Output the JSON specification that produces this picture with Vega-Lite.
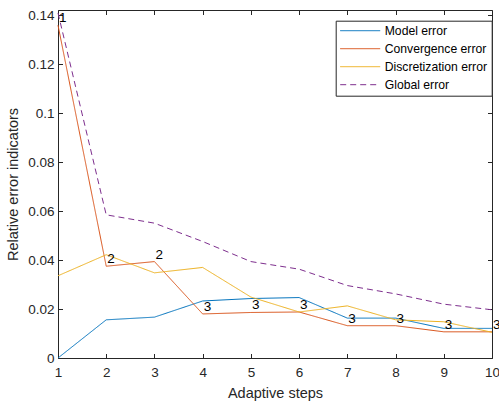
{
  "$schema": "https://vega.github.io/schema/vega-lite/v6.json",
  "autosize": {"type": "none"},
  "width": 434,
  "height": 348,
  "padding": {"left": 58, "top": 10, "right": 7, "bottom": 47},
  "background": "white",
  "datasets": {
    "errors": [
      {"step": 1, "series": "Model error", "value": 0.0},
      {"step": 2, "series": "Model error", "value": 0.0156},
      {"step": 3, "series": "Model error", "value": 0.0167},
      {"step": 4, "series": "Model error", "value": 0.0233},
      {"step": 5, "series": "Model error", "value": 0.0243},
      {"step": 6, "series": "Model error", "value": 0.0247},
      {"step": 7, "series": "Model error", "value": 0.0163},
      {"step": 8, "series": "Model error", "value": 0.0163},
      {"step": 9, "series": "Model error", "value": 0.0121},
      {"step": 10, "series": "Model error", "value": 0.0121},
      {"step": 1, "series": "Convergence error", "value": 0.136},
      {"step": 2, "series": "Convergence error", "value": 0.0375},
      {"step": 3, "series": "Convergence error", "value": 0.0394},
      {"step": 4, "series": "Convergence error", "value": 0.018},
      {"step": 5, "series": "Convergence error", "value": 0.0186},
      {"step": 6, "series": "Convergence error", "value": 0.0188},
      {"step": 7, "series": "Convergence error", "value": 0.0132},
      {"step": 8, "series": "Convergence error", "value": 0.0132},
      {"step": 9, "series": "Convergence error", "value": 0.0107},
      {"step": 10, "series": "Convergence error", "value": 0.0107},
      {"step": 1, "series": "Discretization error", "value": 0.0336},
      {"step": 2, "series": "Discretization error", "value": 0.0422},
      {"step": 3, "series": "Discretization error", "value": 0.0348},
      {"step": 4, "series": "Discretization error", "value": 0.037},
      {"step": 5, "series": "Discretization error", "value": 0.0249},
      {"step": 6, "series": "Discretization error", "value": 0.0188},
      {"step": 7, "series": "Discretization error", "value": 0.0213},
      {"step": 8, "series": "Discretization error", "value": 0.0156},
      {"step": 9, "series": "Discretization error", "value": 0.0148},
      {"step": 10, "series": "Discretization error", "value": 0.0105},
      {"step": 1, "series": "Global error", "value": 0.141},
      {"step": 2, "series": "Global error", "value": 0.0585},
      {"step": 3, "series": "Global error", "value": 0.0551},
      {"step": 4, "series": "Global error", "value": 0.0476},
      {"step": 5, "series": "Global error", "value": 0.0394},
      {"step": 6, "series": "Global error", "value": 0.0363},
      {"step": 7, "series": "Global error", "value": 0.0296},
      {"step": 8, "series": "Global error", "value": 0.0262},
      {"step": 9, "series": "Global error", "value": 0.022},
      {"step": 10, "series": "Global error", "value": 0.0197}
    ],
    "labels": [
      {"step": 1, "value": 0.136, "label": "1"},
      {"step": 2, "value": 0.0375, "label": "2"},
      {"step": 3, "value": 0.0394, "label": "2"},
      {"step": 4, "value": 0.018, "label": "3"},
      {"step": 5, "value": 0.0186, "label": "3"},
      {"step": 6, "value": 0.0188, "label": "3"},
      {"step": 7, "value": 0.0132, "label": "3"},
      {"step": 8, "value": 0.0132, "label": "3"},
      {"step": 9, "value": 0.0107, "label": "3"},
      {"step": 10, "value": 0.0107, "label": "3"}
    ]
  },
  "config": {
    "font": "Liberation Sans",
    "view": {"stroke": null},
    "axis": {
      "grid": false,
      "domainColor": "#262626",
      "domainWidth": 1,
      "tickColor": "#262626",
      "tickWidth": 1,
      "tickSize": -4.5,
      "labelColor": "#262626",
      "labelFont": "Liberation Sans",
      "labelFontSize": 13.5,
      "titleColor": "#262626",
      "titleFont": "Liberation Sans",
      "titleFontSize": 14.5,
      "titleFontWeight": "normal"
    }
  },
  "layer": [
    {
      "data": {"name": "errors"},
      "mark": {"type": "line", "strokeWidth": 1, "clip": false},
      "encoding": {
        "x": {
          "field": "step", "type": "quantitative",
          "scale": {"domain": [1, 10], "nice": false, "zero": false},
          "axis": {"orient": "bottom", "title": "Adaptive steps", "values": [1,2,3,4,5,6,7,8,9,10], "labelPadding": 12, "titlePadding": 7, "labelFlush": false}
        },
        "y": {
          "field": "value", "type": "quantitative",
          "scale": {"domain": [0, 0.1422], "nice": false},
          "axis": {"orient": "left", "title": "Relative error indicators", "values": [0, 0.02, 0.04, 0.06, 0.08, 0.1, 0.12, 0.14], "format": "~g", "labelPadding": 8.5, "titlePadding": 7.5, "labelFlush": false}
        },
        "color": {
          "field": "series", "type": "nominal",
          "scale": {"domain": ["Model error", "Convergence error", "Discretization error", "Global error"], "range": ["#0072BD", "#D95319", "#EDB120", "#7E2F8E"]},
          "legend": {
            "title": null, "orient": "none", "legendX": 277.7, "legendY": 10.7,
            "symbolType": "stroke", "symbolSize": 1600, "symbolStrokeWidth": 1,
            "clipHeight": 12, "rowPadding": 5, "padding": 4, "labelOffset": 4,
            "labelFont": "Liberation Sans", "labelFontSize": 12.2, "labelColor": "#000000",
            "strokeColor": "#262626", "fillColor": "white"
          }
        },
        "strokeDash": {
          "field": "series", "type": "nominal",
          "scale": {"domain": ["Model error", "Convergence error", "Discretization error", "Global error"], "range": [[1, 0], [1, 0], [1, 0], [6, 4]]},
          "legend": null
        }
      }
    },
    {
      "data": {"name": "labels"},
      "mark": {"type": "text", "align": "left", "baseline": "middle", "dx": 1, "dy": -7, "fontSize": 13.5, "font": "Liberation Sans", "color": "#000000"},
      "encoding": {
        "x": {"field": "step", "type": "quantitative", "axis": {"orient": "top", "labels": false, "title": null, "values": [1,2,3,4,5,6,7,8,9,10]}},
        "y": {"field": "value", "type": "quantitative", "axis": {"orient": "right", "labels": false, "title": null, "values": [0, 0.02, 0.04, 0.06, 0.08, 0.1, 0.12, 0.14]}},
        "text": {"field": "label"}
      }
    }
  ],
  "resolve": {"axis": {"x": "independent", "y": "independent"}}
}
